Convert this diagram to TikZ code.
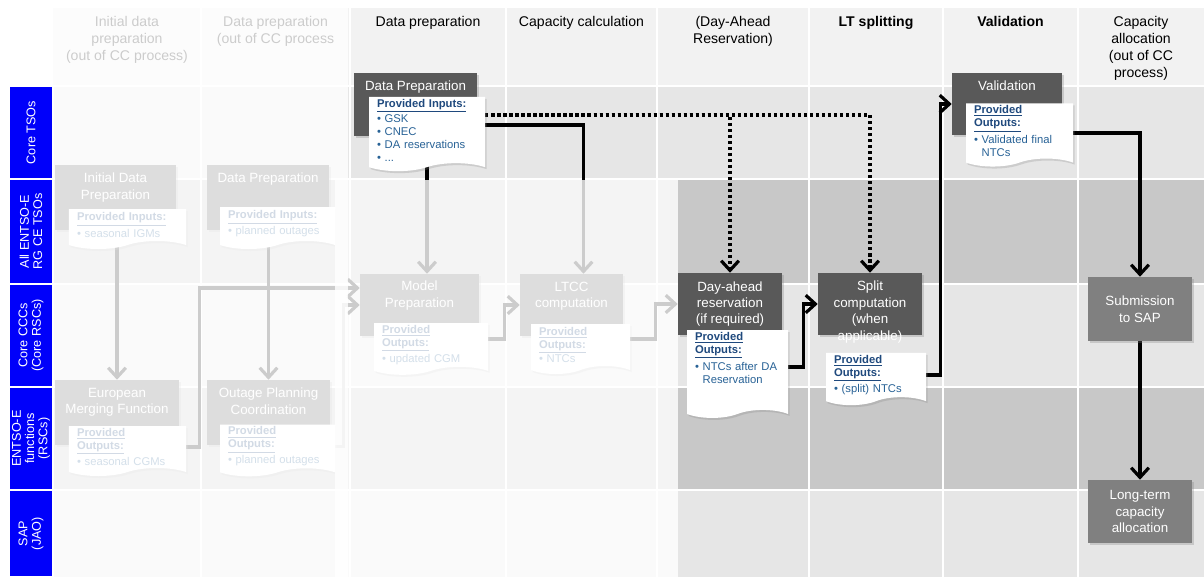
\documentclass[tikz,border=0pt]{standalone}
\usepackage{fontspec}
\setmainfont{Liberation Sans}
\usetikzlibrary{shapes.symbols,arrows.meta,positioning,calc,shadows}

\definecolor{laneblue}{RGB}{0,0,250}
\definecolor{headgrey}{HTML}{F2F2F2}
\definecolor{lightrow}{HTML}{E6E6E6}
\definecolor{darkrow}{HTML}{C8C8C8}
\definecolor{stepgrey}{HTML}{595959}
\definecolor{sapgrey}{HTML}{808080}
\definecolor{notehead}{RGB}{31,73,125}
\definecolor{noteitem}{RGB}{40,98,150}

\newcommand{\itm}{\textbullet\ }
\newcommand{\itmgap}{\phantom{\textbullet\ }}
\newcommand{\nhead}[1]{\textbf{\color{notehead}\underline{#1}}}

\pgfdeclarelayer{cells}
\pgfdeclarelayer{links}
\pgfsetlayers{cells,links,main}

\begin{document}
\begin{tikzpicture}[
		x=0.25mm, y=-0.25mm,
		lane/.style={rectangle, fill=laneblue, draw=white, line width=0.5mm, rotate=90, minimum height=10.75mm, inner sep=1pt, text=white, align=center, font=\fontsize{9}{9.5}\selectfont},
		colhead/.style={anchor=north, align=center, inner sep=0pt, font=\fontsize{10}{12.1}\selectfont},
		stepbox/.style={rectangle, fill=stepgrey, inner sep=0pt, drop shadow={shadow xshift=0.4mm, shadow yshift=-0.4mm, opacity=0.3}},
		boxtitle/.style={inner sep=0pt, text=white, align=center, font=\fontsize{9.5}{11.7}\selectfont},
		sapbox/.style={stepbox, boxtitle, fill=sapgrey, minimum width=26mm},
		note/.style={tape, tape bend top=none, tape bend bottom=in and out, tape bend height=2mm, fill=white, inner xsep=2mm, inner ysep=0.5mm, text width=#1, align=left, text=noteitem, font=\fontsize{8}{9.25}\selectfont, drop shadow={shadow xshift=0.4mm, shadow yshift=-0.5mm, opacity=0.25}},
		link/.style={line width=0.8mm, -{Straight Barb[length=2.4mm,width=4.4mm]}},
		optlink/.style={link, dotted},
		fade/.style={fill=white, opacity=0.8}
		]
		\useasboundingbox (0,0) rectangle (1204,577);

		% Table of phases and roles
		\begin{pgfonlayer}{cells}
			\fill[headgrey] (53,8) rectangle (1204,86);
			\fill[lightrow] (53,86) rectangle (1204,179);
			\fill[darkrow] (53,179) rectangle (1204,284);
			\fill[lightrow] (53,284) rectangle (1204,387);
			\fill[darkrow] (53,387) rectangle (1204,490);
			\fill[lightrow] (53,490) rectangle (1204,577);
			\foreach \gx in {201,350,506,657,809,943,1078}
				\draw[white, line width=0.5mm] (\gx,8) -- (\gx,577);
			\foreach \gy in {86,179,284,387,490}
				\draw[white, line width=0.5mm] (53,\gy) -- (1204,\gy);
		\end{pgfonlayer}

		% Roles
		\node[lane, minimum width=23.25mm] (lanetso) at (31,132.5) {Core TSOs};
		\node[lane, minimum width=26.25mm] (laneall) at (31,231.5) {All ENTSO-E\\RG CE TSOs};
		\node[lane, minimum width=25.75mm] (laneccc) at (31,335.5) {Core CCCs\\(Core RSCs)};
		\node[lane, minimum width=25.75mm] (laneentso) at (31,438.5) {ENTSO-E\\functions\\(RSCs)};
		\node[lane, minimum width=21.75mm] (lanesap) at (31,533.5) {SAP\\(JAO)};

		% Phases
		\node[colhead] (hinit) at (127,16) {Initial data\\preparation\\(out of CC process)};
		\node[colhead] (hprep) at (275.5,16) {Data preparation\\(out of CC process};
		\node[colhead] (hdata) at (428,16) {Data preparation};
		\node[colhead] (hcalc) at (581.5,16) {Capacity calculation};
		\node[colhead] (hdar) at (733,16) {(Day-Ahead\\Reservation)};
		\node[colhead, font=\fontsize{10}{12.1}\selectfont\bfseries] (hsplit) at (876,16) {LT splitting};
		\node[colhead, font=\fontsize{10}{12.1}\selectfont\bfseries] (hvalid) at (1010.5,16) {Validation};
		\node[colhead] (halloc) at (1141,16) {Capacity\\allocation\\(out of CC\\process)};

		% Initial data preparation
		\node[stepbox, minimum width=30.25mm, minimum height=16.25mm] (idp) at (115.5,197.5) {};
		\node[boxtitle, below=2mm of idp.north] (idptxt) {Initial Data\\Preparation};
		\node[note=25.25mm, minimum height=10mm] (idpnote) at (127.5,225) {\nhead{Provided Inputs:}\\[1pt] \itm seasonal IGMs};

		\node[stepbox, minimum width=31mm, minimum height=16.25mm] (emf) at (117,412.5) {};
		\node[boxtitle, below=2mm of emf.north] (emftxt) {European\\Merging Function};
		\node[note=25.25mm, minimum height=12.5mm] (emfnote) at (127.5,447) {\nhead{Provided}\\\nhead{Outputs:}\\[1pt] \itm seasonal CGMs};

		% Data preparation (out of CC process)
		\node[stepbox, minimum width=30.5mm, minimum height=16.25mm] (dptwo) at (268,197.5) {};
		\node[boxtitle, below=2mm of dptwo.north] (dptwotxt) {Data Preparation};
		\node[note=24.75mm, minimum height=10.5mm] (dptwonote) at (277.5,224) {\nhead{Provided Inputs:}\\[1pt] \itm planned outages};

		\node[stepbox, minimum width=30.75mm, minimum height=16.25mm] (opc) at (268.5,412.5) {};
		\node[boxtitle, below=2mm of opc.north] (opctxt) {Outage Planning\\Coordination};
		\node[note=24.75mm, minimum height=12.75mm] (opcnote) at (277.5,446.5) {\nhead{Provided}\\\nhead{Outputs:}\\[1pt] \itm planned outages};

		% Data preparation
		\node[stepbox, minimum width=30.75mm, minimum height=15.75mm] (dprep) at (415.5,104.5) {};
		\node[boxtitle, below=2mm of dprep.north] (dpreptxt) {Data Preparation};
		\node[note=25mm, minimum height=16.5mm] (dpnote) at (427,130) {\nhead{Provided Inputs:}\\[1.5pt] \itm GSK\\ \itm CNEC\\ \itm DA reservations\\ \itm ...};

		\node[stepbox, minimum width=29.75mm, minimum height=15.5mm] (mprep) at (419.5,305) {};
		\node[boxtitle, below=1.75mm of mprep.north] (mpreptxt) {Model\\Preparation};
		\node[note=24.5mm, minimum height=12.5mm] (mpnote) at (431,345) {\nhead{Provided}\\\nhead{Outputs:}\\[1pt] \itm updated CGM};

		% Capacity calculation
		\node[stepbox, minimum width=25.75mm, minimum height=15.5mm] (ltcc) at (571.5,305) {};
		\node[boxtitle, below=2mm of ltcc.north] (ltcctxt) {LTCC\\computation};
		\node[note=20.75mm, minimum height=12.5mm] (ltccnote) at (580.5,345) {\nhead{Provided}\\\nhead{Outputs:}\\[1pt] \itm NTCs};

		% Day-ahead reservation
		\node[stepbox, boxtitle, minimum width=26mm, minimum height=15.5mm] (dahead) at (730,304) {Day-ahead\\reservation\\(if required)};
		\node[note=21.25mm, minimum height=20.5mm] (danote) at (737.5,370) {\nhead{Provided}\\\nhead{Outputs:}\\[1.5pt] \itm NTCs after DA\\ \itmgap Reservation\\[2mm]\strut};

		% LT splitting
		\node[stepbox, minimum width=26mm, minimum height=15.5mm] (split) at (870,304) {};
		\node[boxtitle, below=2mm of split.north] (splittxt) {Split\\computation\\(when\\applicable)};
		\node[note=21mm, minimum height=12.5mm] (spnote) at (876,375) {\nhead{Provided}\\\nhead{Outputs:}\\[1.5pt] \itm (split) NTCs};

		% Validation
		\node[stepbox, minimum width=27.5mm, minimum height=15.5mm] (valid) at (1007,104) {};
		\node[boxtitle, below=2mm of valid.north] (validtxt) {Validation};
		\node[note=22.75mm, minimum height=15.5mm] (vnote) at (1019.5,131) {\nhead{Provided}\\\nhead{Outputs:}\\[1.5pt] \itm Validated final\\ \itmgap NTCs};

		% Capacity allocation
		\node[sapbox, minimum height=16mm] (submit) at (1140,309) {Submission\\to SAP};
		\node[sapbox, minimum height=15.75mm] (ltca) at (1140,511.5) {Long-term\\capacity\\allocation};

		% Connectors
		\begin{pgfonlayer}{links}
			\draw[link] (idpnote.south -| emf.north) -- (emf.north);
			\draw[link] (dptwonote.south -| opc.north) -- (opc.north);
			\draw[link] (emfnote.east) -- ++(13,0) |- ([yshift=4.25mm]mprep.west);
			\draw[link] (opcnote.east) -- ++(8,0) |- (mprep.west);
			\draw[link] (dpnote.south) -- (dpnote.south |- mprep.north);
			\draw[link] ([yshift=1.25mm]dpnote.east) -| ($(ltcc.north)+(12,0)$);
			\draw[link] ([yshift=1.5mm]mpnote.east) -- ++(16,0) |- (ltcc.west);
			\draw[link] ([yshift=1.5mm]ltccnote.east) -- ++(25,0) |- (dahead.west);
			\draw[optlink] ([yshift=3.75mm]dpnote.east) -| (dahead.north);
			\draw[optlink] ([yshift=3.75mm]dpnote.east) -| (split.north);
			\draw[link] ([yshift=0.75mm]danote.east) -- ++(15,0) |- (split.west);
			\draw[link] (spnote.east) -- ++(14,0) |- (valid.west);
			\draw[link] ([yshift=-0.5mm]vnote.east) -| (submit.north);
			\draw[link] (submit.south) -- (ltca.north);
		\end{pgfonlayer}

		% Phases outside the capacity calculation
		\fill[fade] (53,8) rectangle (348,577);
		\fill[fade] (335,180) rectangle (678,577);

	\end{tikzpicture}
\end{document}
